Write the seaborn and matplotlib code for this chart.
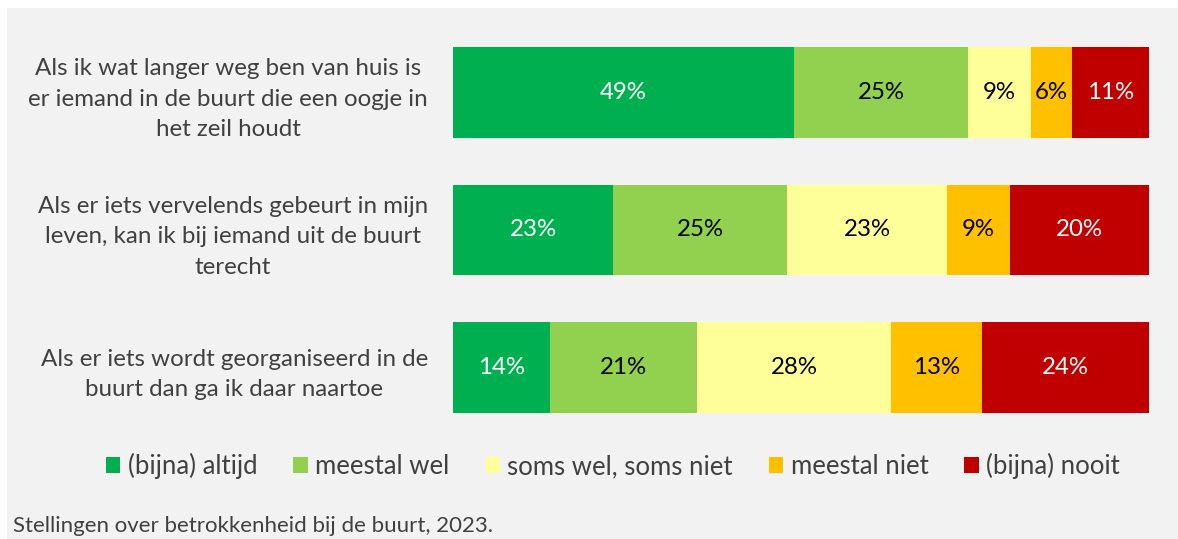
import numpy as np
import pandas as pd
import matplotlib
matplotlib.use("Agg")
import matplotlib.pyplot as plt
from matplotlib.patches import Rectangle, Patch
import seaborn as sns

statements = [
    "Als ik wat langer weg ben van huis is\ner iemand in de buurt die een oogje in\nhet zeil houdt",
    "Als er iets vervelends gebeurt in mijn\nleven, kan ik bij iemand uit de buurt\nterecht",
    "Als er iets wordt georganiseerd in de\nbuurt dan ga ik daar naartoe",
]
categories = ["(bijna) altijd", "meestal wel", "soms wel, soms niet", "meestal niet", "(bijna) nooit"]
altijd = [49, 23, 14]
meestal_wel = [25, 25, 21]
soms = [9, 23, 28]
meestal_niet = [6, 9, 13]
nooit = [11, 20, 24]
colors = ["#00B050", "#92D050", "#FFFF99", "#FFC000", "#C00000"]
text_colors = ["white", "black", "black", "black", "white"]
caption = "Stellingen over betrokkenheid bij de buurt, 2023."

sns.set_theme(style="white")
plt.rcParams["font.family"] = ["Lato", "DejaVu Sans"]

series = [altijd, meestal_wel, soms, meestal_niet, nooit]
df = pd.DataFrame({c: v for c, v in zip(categories, series)}, index=statements)
cum = df.cumsum(axis=1)

fig = plt.figure(figsize=(11.78, 5.39), dpi=100)
fig.patch.set_facecolor("white")
fig.patches.append(Rectangle((7 / 1178, 0), 1, 1 - 8 / 539, transform=fig.transFigure,
                             facecolor="#F2F2F2", edgecolor="none", zorder=-10))
ax = fig.add_axes([453 / 1178, 1 - 436.5 / 539, (1149 - 453) / 1178, 413 / 539])
ax.set_facecolor("none")

# draw cumulative bars from largest to smallest so they stack
for i in reversed(range(len(categories))):
    d = pd.DataFrame({"stmt": statements, "val": cum[categories[i]].values})
    sns.barplot(data=d, x="val", y="stmt", orient="h", color=colors[i],
                width=0.66, saturation=1, ax=ax, linewidth=0)

for r in range(len(statements)):
    for i, c in enumerate(categories):
        v = df.loc[statements[r], c]
        centre = cum.loc[statements[r], c] - v / 2
        ax.text(centre, r, f"{v}%", ha="center", va="center", fontsize=17.3,
                color=text_colors[i])

ax.set_xlim(0, 100)
ax.set_ylim(2.5, -0.5)
ax.set_xlabel("")
ax.set_ylabel("")
ax.set_xticks([])
for s in ax.spines.values():
    s.set_visible(False)
ax.tick_params(axis="y", length=0, pad=18)
for lab in ax.get_yticklabels():
    lab.set_fontsize(17.4)
    lab.set_color("#404040")
    lab.set_multialignment("center")
    lab.set_linespacing(1.55)

handles = [Patch(facecolor=c, edgecolor="none") for c in colors]
fig.legend(handles, categories, loc="center", bbox_to_anchor=(613 / 1178, 1 - 466 / 539),
           ncol=5, frameon=False, fontsize=18.5, handlelength=0.55, handleheight=0.55,
           handletextpad=0.3, columnspacing=1.4, labelcolor="#404040")

fig.text(13 / 1178, 1 - 526 / 539, caption, ha="left", va="center", fontsize=16, color="#404040")

fig.savefig("out.png", dpi=100, facecolor=fig.get_facecolor())
